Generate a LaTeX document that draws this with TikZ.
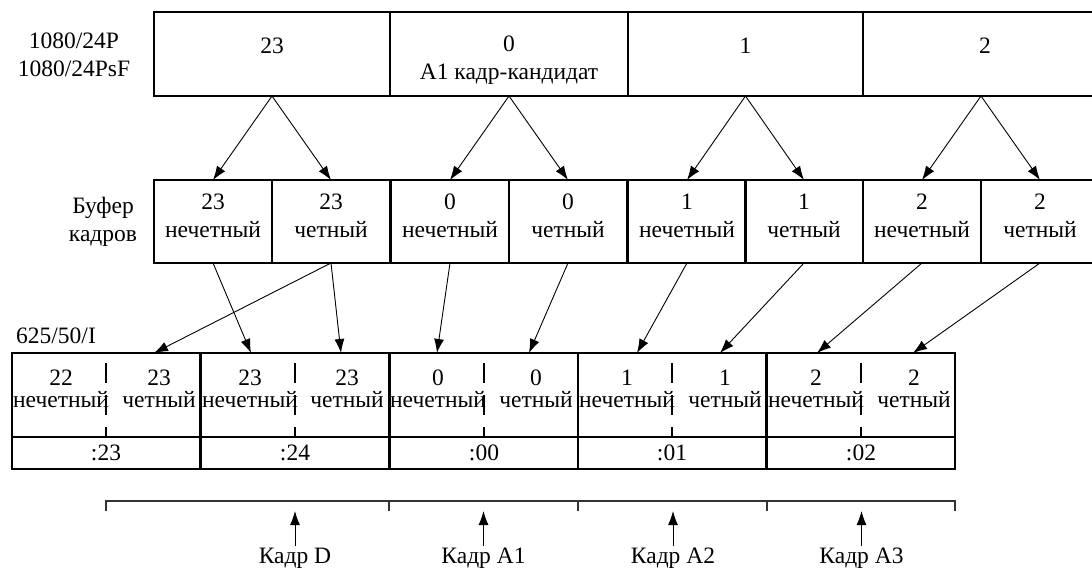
\documentclass[tikz,border=0pt]{standalone}
\usepackage{fontspec}
\setmainfont{Liberation Serif}
\usetikzlibrary{arrows.meta}
\begin{document}
\begin{tikzpicture}[x=1pt,y=-1pt,
  box/.style={draw, line width=1.5pt, inner sep=0pt, outer sep=0pt, anchor=north west},
  txt/.style={inner sep=0pt, align=center, font=\fontsize{23.5}{27.5}\selectfont},
  btxt/.style={inner sep=0pt, align=center, font=\fontsize{23.5}{21.5}\selectfont},
  arr/.style={line width=0.9pt, -{Latex[length=14pt,width=10pt]}},
  sep/.style={line width=1.5pt, dash pattern=on 20pt off 12pt},
  brk/.style={line width=1.2pt, draw=black!80}]
\useasboundingbox (0,0) rectangle (1092,570);
\begin{scope}
\clip (0,0) rectangle (1092,570);
% top row
\node[box, minimum width=236pt, minimum height=84pt] (T23) at (154,12) {};
\node[box, minimum width=238pt, minimum height=84pt] (T0) at (390,12) {};
\node[box, minimum width=235pt, minimum height=84pt] (T1) at (628,12) {};
\node[box, minimum width=236pt, minimum height=84pt] (T2) at (863,12) {};
\node[txt] (t23) at (272,45.5) {23};
\node[txt] (t0) at (509,60) {0\\А1 кадр-кандидат};
\node[txt] (t1) at (745.5,45.5) {1};
\node[txt] (t2) at (985,45.5) {2};
\node[txt] (lab1) at (74,55) {1080/24P\\1080/24PsF};
% buffer row
\foreach \i/\x in {1/154,2/272,3/391,4/509,5/628,6/745,7/863,8/981}{
  \node[box, minimum width=118pt, minimum height=83pt] (b\i) at (\x,180) {};
}
\node[txt] (bt1) at ([yshift=5.5pt]b1.center) {23\\нечетный};
\node[txt] (bt2) at ([yshift=5.5pt]b2.center) {23\\четный};
\node[txt] (bt3) at ([yshift=5.5pt]b3.center) {0\\нечетный};
\node[txt] (bt4) at ([yshift=5.5pt]b4.center) {0\\четный};
\node[txt] (bt5) at ([yshift=5.5pt]b5.center) {1\\нечетный};
\node[txt] (bt6) at ([yshift=5.5pt]b6.center) {1\\четный};
\node[txt] (bt7) at ([yshift=5.5pt]b7.center) {2\\нечетный};
\node[txt] (bt8) at ([yshift=5.5pt]b8.center) {2\\четный};
\node[txt] (lab2) at (103,222) {Буфер\\кадров};
\end{scope}
% bottom rows
\node[txt, anchor=west] (lab3) at (16,336) {625/50/I};
\foreach \k/\x in {0/12,1/201,2/390,3/578,4/767}{
  \node[box, minimum width=188pt, minimum height=84pt] (c\k) at (\x,353) {};
  \node[box, minimum width=188pt, minimum height=32pt] (d\k) at (\x,437) {};
  \draw[sep] ([yshift=-10pt]c\k.north) -- (c\k.south);
}
\node[btxt] (ct0a) at (61,389) {22\\нечетный};
\node[btxt] (ct0b) at (159,389) {23\\четный};
\node[btxt] (ct1a) at (250,389) {23\\нечетный};
\node[btxt] (ct1b) at (347,389) {23\\четный};
\node[btxt] (ct2a) at (438,389) {0\\нечетный};
\node[btxt] (ct2b) at (536,389) {0\\четный};
\node[btxt] (ct3a) at (627,389) {1\\нечетный};
\node[btxt] (ct3b) at (725,389) {1\\четный};
\node[btxt] (ct4a) at (816,389) {2\\нечетный};
\node[btxt] (ct4b) at (914,389) {2\\четный};
\node[btxt] (dt0) at (d0.center) {:23};
\node[btxt] (dt1) at (d1.center) {:24};
\node[btxt] (dt2) at (d2.center) {:00};
\node[btxt] (dt3) at (d3.center) {:01};
\node[btxt] (dt4) at (d4.center) {:02};
% arrows top -> buffer
\draw[arr] (T23.south) -- (b1.north);
\draw[arr] (T23.south) -- (b2.north);
\draw[arr] (T0.south) -- (b3.north);
\draw[arr] (T0.south) -- (b4.north);
\draw[arr] (T1.south) -- (b5.north);
\draw[arr] (T1.south) -- (b6.north);
\draw[arr] (T2.south) -- (b7.north);
\draw[arr] (T2.south) -- (b8.north);
% arrows buffer -> bottom
\coordinate (e1) at (251,353);
\coordinate (e2) at (341,353);
\coordinate (e2b) at (154,353);
\coordinate (e3) at (437,353);
\coordinate (e4) at (529,353);
\coordinate (e5) at (637,353);
\coordinate (e6) at (720,353);
\coordinate (e7) at (817,353);
\coordinate (e8) at (913,353);
\draw[arr] (b1.south) -- (e1);
\draw[arr] (b2.south) -- (e2);
\draw[arr] (b2.south) -- (e2b);
\draw[arr] (b3.south) -- (e3);
\draw[arr] (b4.south) -- (e4);
\draw[arr] (b5.south) -- (e5);
\draw[arr] (b6.south) -- (e6);
\draw[arr] (b7.south) -- (e7);
\draw[arr] (b8.south) -- (e8);
% bracket
\coordinate (k0) at (106,501);
\coordinate (k1) at (389,501);
\coordinate (k2) at (578,501);
\coordinate (k3) at (767,501);
\coordinate (k4) at (955,501);
\draw[brk] ([yshift=-10pt]k0) -- (k0) -- (k4) -- ([yshift=-10pt]k4);
\foreach \j in {1,2,3}{\draw[brk] ([yshift=-10pt]k\j) -- (k\j);}
% frame labels
\node[txt] (f1) at (295,558) {Кадр D};
\node[txt] (f2) at (483.5,558) {Кадр A1};
\node[txt] (f3) at (673,558) {Кадр A2};
\node[txt] (f4) at (861.5,558) {Кадр A3};
\foreach \n/\x in {1/295,2/483.5,3/673,4/861.5}{
  \coordinate (fa\n) at (\x,511);
  \draw[arr] (f\n.north) ++(0,-2) -- (fa\n);
}
\end{tikzpicture}
\end{document}
